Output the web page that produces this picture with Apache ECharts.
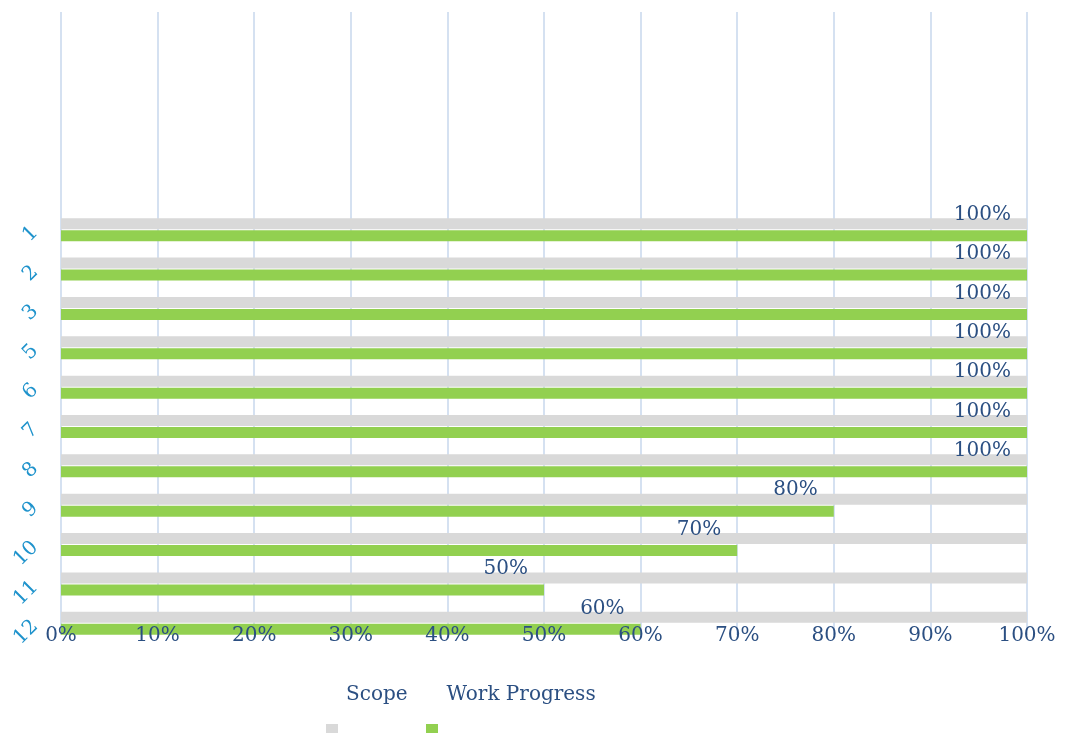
<!DOCTYPE html>
<html>
<head>
<meta charset="utf-8">
<script src="https://cdn.jsdelivr.net/npm/echarts@6/dist/echarts.min.js"></script>
<style>
html,body{margin:0;padding:0;background:#fff;}
#chart{width:1067px;height:733px;}
</style>
</head>
<body>
<div id="chart"></div>
<script>
var categories = ['1', '2', '3', '5', '6', '7', '8', '9', '10', '11', '12'];
var scopeValues = [1, 1, 1, 1, 1, 1, 1, 1, 1, 1, 1];
var progressValues = [1, 1, 1, 1, 1, 1, 1, 0.8, 0.7, 0.5, 0.6];
var xTickLabels = ['0%', '10%', '20%', '30%', '40%', '50%', '60%', '70%', '80%', '90%', '100%'];
var seriesNames = ['Scope', 'Work Progress'];

var serif = '"DejaVu Serif", "Liberation Serif", serif';
var textBlue = '#2b4f82';

var chart = echarts.init(document.getElementById('chart'));
chart.setOption({
  animation: false,
  backgroundColor: '#ffffff',
  grid: [
    { left: 61, right: 40, top: 12, bottom: 98 },
    { left: 61, right: 40, top: 210, bottom: 90 }
  ],
  xAxis: [
    {
      gridIndex: 0, type: 'value', min: 0, max: 1, interval: 0.1, z: 0,
      axisLine: { show: false }, axisTick: { show: false },
      axisLabel: { show: false },
      splitLine: { show: true, lineStyle: { color: '#d5e1f1', width: 2 } }
    },
    {
      gridIndex: 1, type: 'value', min: 0, max: 1, show: false
    },
    {
      gridIndex: 0, type: 'value', min: 0, max: 1, interval: 0.1, z: 5,
      position: 'bottom',
      axisLine: { show: false }, axisTick: { show: false },
      splitLine: { show: false },
      axisLabel: {
        margin: -9,
        fontFamily: serif, fontSize: 20, color: textBlue,
        formatter: function (v) { return xTickLabels[Math.round(v * 10)]; }
      }
    }
  ],
  yAxis: [
    { gridIndex: 0, type: 'category', data: [''], show: false },
    {
      gridIndex: 1, type: 'category', data: categories, inverse: true,
      axisLine: { show: false }, axisTick: { show: false },
      splitLine: { show: false },
      axisLabel: {
        rotate: 45, margin: 26,
        fontFamily: serif, fontSize: 20, color: '#1f93cc'
      }
    }
  ],
  legend: [
    {
      data: seriesNames,
      left: 335, top: 680,
      icon: 'rect', itemWidth: 1, itemHeight: 1, itemGap: 33,
      itemStyle: { opacity: 0 },
      textStyle: { fontFamily: serif, fontSize: 20, color: textBlue },
      selectedMode: false
    },
    {
      data: seriesNames,
      left: 321, top: 719,
      icon: 'rect', itemWidth: 12, itemHeight: 14, itemGap: 88,
      formatter: function () { return ''; },
      selectedMode: false
    }
  ],
  series: [
    {
      name: seriesNames[0], type: 'bar',
      xAxisIndex: 1, yAxisIndex: 1,
      data: scopeValues,
      barWidth: 11, barGap: '9%',
      itemStyle: { color: '#d9d9d9' },
      silent: true
    },
    {
      name: seriesNames[1], type: 'bar',
      xAxisIndex: 1, yAxisIndex: 1,
      data: progressValues,
      barWidth: 11, barGap: '9%',
      itemStyle: { color: '#92d050' },
      label: {
        show: true, position: 'insideRight', offset: [-11, -21],
        fontFamily: serif, fontSize: 20, color: textBlue,
        formatter: function (p) { return Math.round(p.value * 100) + '%'; }
      },
      silent: true
    }
  ]
});
</script>
</body>
</html>
